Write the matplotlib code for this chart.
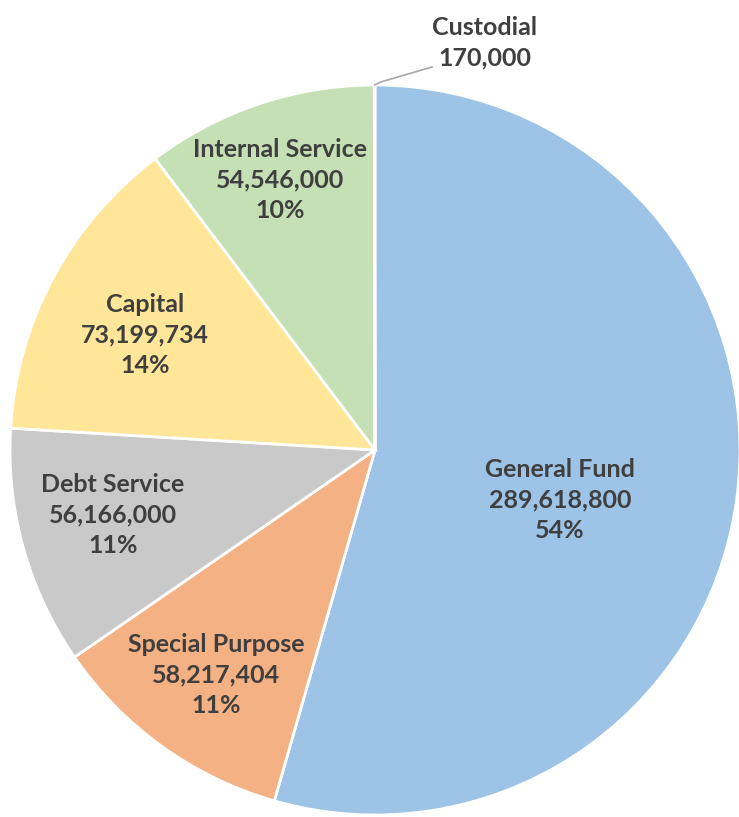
import matplotlib.pyplot as plt
import numpy as np

# fund budget split
funds = ["General Fund", "Special Purpose", "Debt Service", "Capital",
         "Internal Service", "Custodial"]
amounts = [289618800, 58217404, 56166000, 73199734, 54546000, 170000]
colors = ["#9DC3E6", "#F4B183", "#C9C9C9", "#FFE699", "#C5E0B4", "#C5E0B4"]

# label centres in pixel units (x right, y up), custodial handled separately
label_xy = [(560, 317), (216, 142), (113, 302), (145, 482), (280, 637)]

W, H = 739, 817
fig = plt.figure(figsize=(W / 100, H / 100), dpi=100)
ax = fig.add_axes([0, 0, 1, 1])

cx, cy, R = 375, H - 450, 365
wedges, _ = ax.pie(amounts, colors=colors, startangle=90, counterclock=False,
                   center=(cx, cy), radius=R, frame=True,
                   wedgeprops=dict(edgecolor="white", linewidth=2))
ax.set_xlim(0, W)
ax.set_ylim(0, H)
ax.set_aspect("equal")
ax.axis("off")

total = sum(amounts)
txt = dict(ha="center", va="center", color="#3F3F3F", fontsize=18,
           fontweight="bold", family=["Lato", "DejaVu Sans"], linespacing=1.4)
for name, val, (x, y) in zip(funds[:5], amounts[:5], label_xy):
    pct = round(val / total * 100)
    ax.text(x, y, f"{name}\n{val:,.0f}\n{pct}%", **txt)

# custodial is too thin for an inside label, use a leader line
w = wedges[5]
ang = np.deg2rad((w.theta1 + w.theta2) / 2)
ex, ey = cx + R * np.cos(ang), cy + R * np.sin(ang)
ax.plot([ex, ex + 6, 432], [ey, ey + 3, H - 67], color="#A6A6A6", lw=1.2)
ax.text(485, H - 43, f"{funds[5]}\n{amounts[5]:,.0f}", **txt)

fig.savefig("out.png", dpi=100)
